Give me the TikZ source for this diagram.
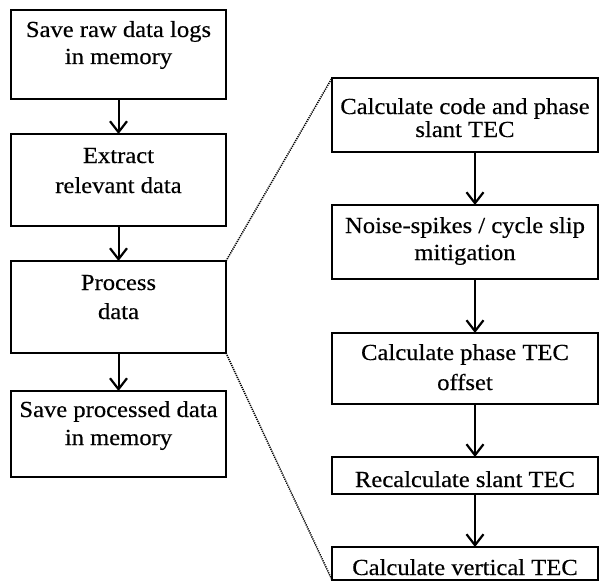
\documentclass[tikz,border=0pt]{standalone}
\usepackage{fontspec}
\setmainfont{Liberation Serif}[FakeStretch=1.07,FakeBold=0.4]
\usetikzlibrary{arrows.meta}
\begin{document}
\begin{tikzpicture}[x=1pt,y=-1pt,
  boxstyle/.style={draw, line width=2pt, minimum width=#1, inner sep=0pt, outer sep=0pt},
  lbox/.style={boxstyle=215pt},
  rbox/.style={boxstyle=266pt},
  txt/.style={anchor=base, inner sep=0pt, font=\fontsize{23}{27}\selectfont},
  flow/.style={line width=2pt, -{Straight Barb[length=11pt,width=17pt,line width=2.2pt]}},
  zoomline/.style={line width=1.5pt, dash pattern=on 1.2pt off 1pt}]
\useasboundingbox (0,0) rectangle (599,583);
% left column
\node[lbox, minimum height=89pt] (b1) at (118.5,54.5) {};
\node[lbox, minimum height=92pt] (b2) at (118.5,180) {};
\node[lbox, minimum height=92pt] (b3) at (118.5,307) {};
\node[lbox, minimum height=86pt] (b4) at (118.5,434) {};
\node[txt] (t1a) at (118.5,37) {Save raw data logs};
\node[txt] (t1b) at (118.5,64) {in memory};
\node[txt] (t2a) at (118.5,163) {Extract};
\node[txt] (t2b) at (118.5,193) {relevant data};
\node[txt] (t3a) at (118.5,290) {Process};
\node[txt] (t3b) at (118.5,319) {data};
\node[txt] (t4a) at (118.5,417) {Save processed data};
\node[txt] (t4b) at (118.5,445) {in memory};
% right column
\node[rbox, minimum height=74pt] (r1) at (465,115) {};
\node[rbox, minimum height=74pt] (r2) at (465,242) {};
\node[rbox, minimum height=71pt] (r3) at (465,368.5) {};
\node[rbox, minimum height=37pt] (r4) at (465,475.5) {};
\node[rbox, minimum height=33pt] (r5) at (465,563.5) {};
\node[txt] (s1a) at (465,114) {Calculate code and phase};
\node[txt] (s1b) at (465,137) {slant TEC};
\node[txt] (s2a) at (465,233) {Noise-spikes / cycle slip};
\node[txt] (s2b) at (465,260) {mitigation};
\node[txt] (s3a) at (465,360) {Calculate phase TEC};
\node[txt] (s3b) at (465,390) {offset};
\node[txt] (s4a) at (465,487) {Recalculate slant TEC};
\node[txt] (s5a) at (465,575) {Calculate vertical TEC};
% arrows
\draw[flow] (b1.south) -- (b2.north);
\draw[flow] (b2.south) -- (b3.north);
\draw[flow] (b3.south) -- (b4.north);
\coordinate (ax) at (475,0);
\draw[flow] (r1.south -| ax) -- (r2.north -| ax);
\draw[flow] (r2.south -| ax) -- (r3.north -| ax);
\draw[flow] (r3.south -| ax) -- (r4.north -| ax);
\draw[flow] (r4.south -| ax) -- (r5.north -| ax);
% zoom lines
\draw[zoomline] (b3.north east) -- (r1.north west);
\draw[zoomline] (b3.south east) -- (r5.south west);
\end{tikzpicture}
\end{document}
